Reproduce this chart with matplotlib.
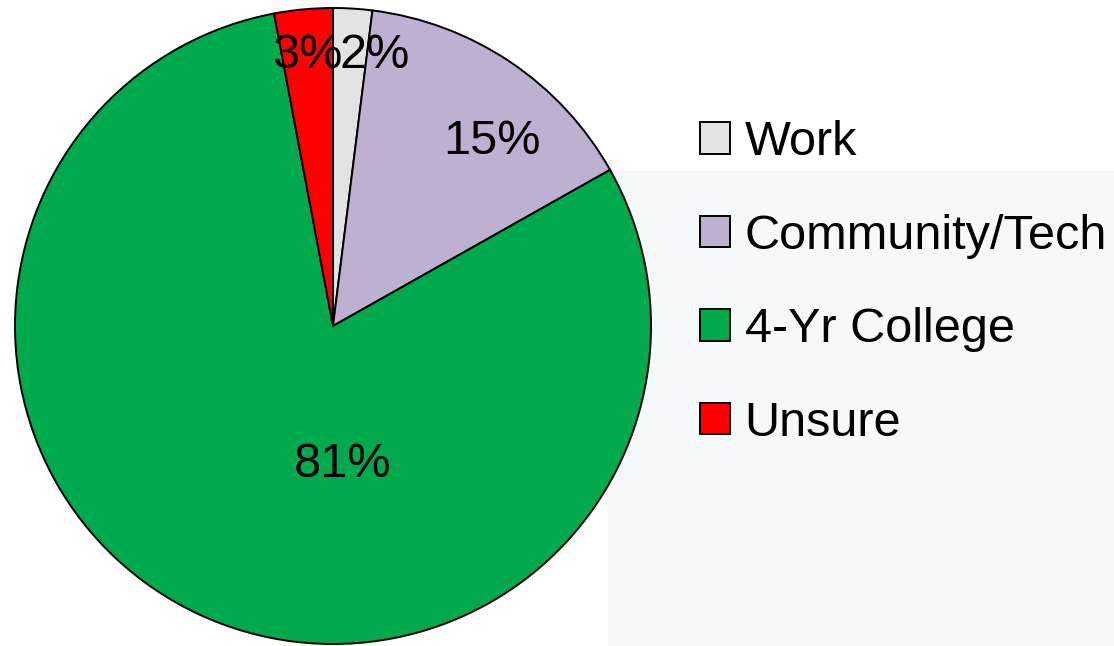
import matplotlib
matplotlib.use('Agg')
import matplotlib.pyplot as plt
from matplotlib.patches import Rectangle

categories = ['Work', 'Community/Tech', '4-Yr College', 'Unsure']
values = [2, 15, 81, 3]
colors = ['#E3E3E3', '#BDB0D0', '#00AA4C', '#FF0000']
pct_labels = ['2%', '15%', '81%', '3%']
# label positions, in units of the pie radius
label_pos = [(0.13, 0.85), (0.50, 0.58), (0.03, -0.435), (-0.08, 0.85)]

plt.rcParams['font.family'] = ['Liberation Sans', 'DejaVu Sans']

W, H = 1114, 646
fig = plt.figure(figsize=(W / 100, H / 100), dpi=100)

# pale panel behind the legend
fig.patches.append(Rectangle((608 / W, 0), (W - 608) / W, (646 - 171) / H,
                             transform=fig.transFigure, facecolor='#F5F9FC',
                             edgecolor='none', zorder=-1))

cx, cy, r = 333, 326, 318
ax = fig.add_axes([(cx - r) / W, (H - cy - r) / H, 2 * r / W, 2 * r / H])
ax.set_zorder(1)
ax.set_facecolor('none')
wedges, _ = ax.pie(values, colors=colors, startangle=90, counterclock=False,
                   radius=1, wedgeprops=dict(edgecolor='black', linewidth=1.4))
ax.set_xlim(-1, 1)
ax.set_ylim(-1, 1)
ax.set_aspect('equal')
ax.axis('off')

for txt, (x, y) in zip(pct_labels, label_pos):
    ax.text(x, y, txt, ha='center', va='center', fontsize=35, color='black')

leg = fig.legend(wedges, categories, loc='upper left',
                 bbox_to_anchor=(700 / W, 1 - 120 / H), frameon=False,
                 fontsize=35, handlelength=0.62, handleheight=0.62,
                 handletextpad=0.3, labelspacing=1.0, borderpad=0,
                 borderaxespad=0)
leg.set_zorder(2)

fig.savefig('out.png', dpi=100)
